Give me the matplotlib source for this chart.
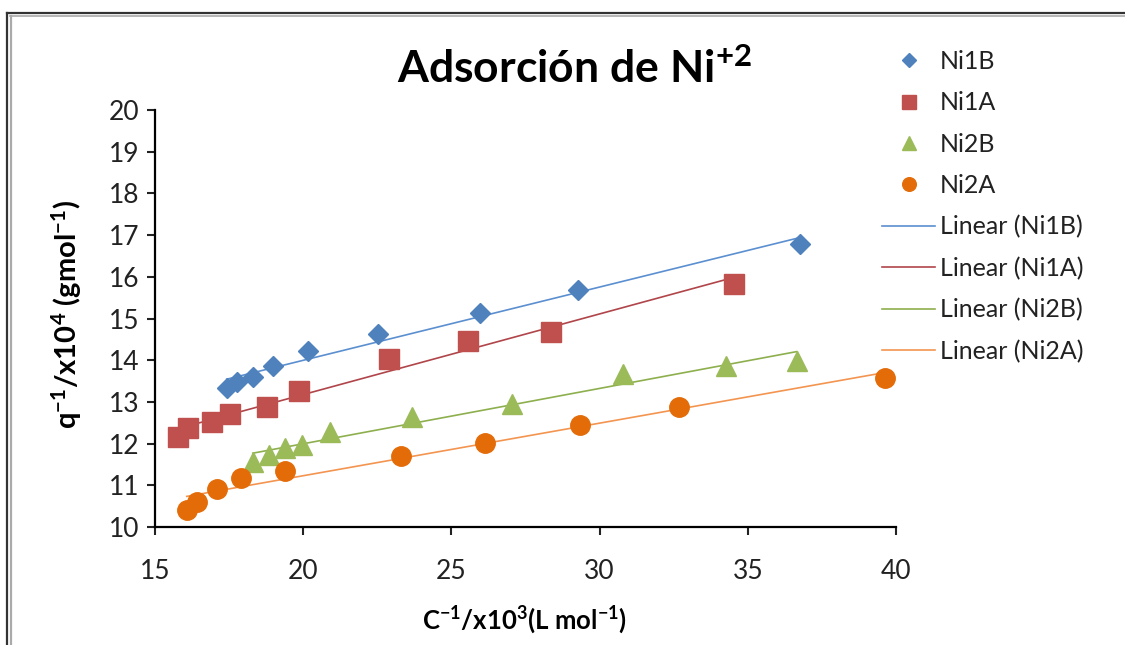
import numpy as np
import matplotlib
matplotlib.use("Agg")
import matplotlib.pyplot as plt
from matplotlib.lines import Line2D

plt.rcParams['font.family'] = ['Lato', 'DejaVu Sans']
plt.rcParams['mathtext.fontset'] = 'custom'
plt.rcParams['mathtext.rm'] = 'Lato'
plt.rcParams['mathtext.bf'] = 'Lato:bold'
plt.rcParams['mathtext.default'] = 'bf'

# ---- data ----
ni1b_x = [17.42, 17.78, 18.30, 18.97, 20.17, 22.53, 25.96, 29.28, 36.76]
ni1b_y = [13.34, 13.48, 13.59, 13.87, 14.22, 14.64, 15.14, 15.68, 16.79]

ni1a_x = [15.79, 16.12, 16.91, 17.53, 18.77, 19.86, 22.90, 25.57, 28.35, 34.55]
ni1a_y = [12.17, 12.37, 12.53, 12.71, 12.87, 13.27, 14.02, 14.47, 14.68, 15.83]

ni2b_x = [18.30, 18.86, 19.39, 19.95, 20.90, 23.66, 27.03, 30.78, 34.27, 36.65]
ni2b_y = [11.57, 11.73, 11.89, 11.97, 12.29, 12.65, 12.95, 13.67, 13.86, 13.99]

ni2a_x = [16.07, 16.41, 17.08, 17.89, 19.39, 23.29, 26.13, 29.34, 32.68, 39.63]
ni2a_y = [10.42, 10.61, 10.90, 11.17, 11.35, 11.70, 12.02, 12.45, 12.89, 13.57]

series_names = ["Ni1B", "Ni1A", "Ni2B", "Ni2A"]
x_ticks = [15, 20, 25, 30, 35, 40]
y_ticks = [10, 11, 12, 13, 14, 15, 16, 17, 18, 19, 20]

# ---- figure ----
fig = plt.figure(figsize=(11.25, 6.45), dpi=100)
ax = fig.add_axes([0.1378, 0.1829, 0.6586, 0.6466])

series = [
    (ni1b_x, ni1b_y, 'D', 10, '#4F81BD', '#5B8FD0'),
    (ni1a_x, ni1a_y, 's', 14, '#C0504D', '#B0454A'),
    (ni2b_x, ni2b_y, '^', 15, '#9BBB59', '#8DAF4E'),
    (ni2a_x, ni2a_y, 'o', 14, '#E36C09', '#F39550'),
]

marker_handles = []
line_handles = []
for (xs, ys, mk, ms, mc, lc), name in zip(series, series_names):
    h, = ax.plot(xs, ys, linestyle='none', marker=mk, markersize=ms,
                 markerfacecolor=mc, markeredgecolor=mc, zorder=3, label=name)
    marker_handles.append(h)
for (xs, ys, mk, ms, mc, lc), name in zip(series, series_names):
    k, b = np.polyfit(xs, ys, 1)
    xl = np.array([min(xs), max(xs)])
    l, = ax.plot(xl, k * xl + b, color=lc, linewidth=1.2, zorder=2,
                 label="Linear (%s)" % name)
    line_handles.append(l)

ax.set_xlim(15, 40)
ax.set_ylim(10, 20)
ax.set_xticks(x_ticks)
ax.set_yticks(y_ticks)
ax.tick_params(axis='both', direction='out', length=6, width=1.5,
               labelsize=19, colors='#222222')
ax.tick_params(axis='y', pad=5)
ax.tick_params(axis='x', pad=17)
for s in ['top', 'right']:
    ax.spines[s].set_visible(False)
for s in ['left', 'bottom']:
    ax.spines[s].set_linewidth(1.6)
    ax.spines[s].set_color('black')
ax.patch.set_alpha(0)

fig.text(0.511, 0.893, r"Adsorción de Ni$^{+2}$", ha='center', va='center',
         fontsize=32, fontweight='bold')
fig.text(0.059, 0.513, r"q$^{-1}$/x10$^{4}$ (gmol$^{-1}$)", rotation=90,
         ha='center', va='center', fontsize=21, fontweight='bold')
fig.text(0.466, 0.039, r"C$^{-1}$/x10$^{3}$(L mol$^{-1}$)", ha='center',
         va='center', fontsize=18.5, fontweight='bold')

leg = fig.legend(handles=marker_handles + line_handles, loc='upper left',
                 bbox_to_anchor=(0.764, 0.957), frameon=False, fontsize=18,
                 handlelength=2.12, handletextpad=0.2, labelspacing=0.73,
                 markerscale=0.7)
for t in leg.get_texts():
    t.set_color('#222222')

# outer frame
fig.add_artist(Line2D([7 / 1125, 1.0], [1 - 12.5 / 645] * 2,
                      transform=fig.transFigure, color='#333333', linewidth=1.6))
fig.add_artist(Line2D([10 / 1125, 1.0], [1 - 15.5 / 645] * 2,
                      transform=fig.transFigure, color='#aaaaaa', linewidth=1.2))
fig.add_artist(Line2D([7 / 1125] * 2, [0, 1 - 12.5 / 645],
                      transform=fig.transFigure, color='#333333', linewidth=1.6))
fig.add_artist(Line2D([10.5 / 1125] * 2, [0, 1 - 15.5 / 645],
                      transform=fig.transFigure, color='#aaaaaa', linewidth=1.6))

fig.savefig("out.png", dpi=100)
